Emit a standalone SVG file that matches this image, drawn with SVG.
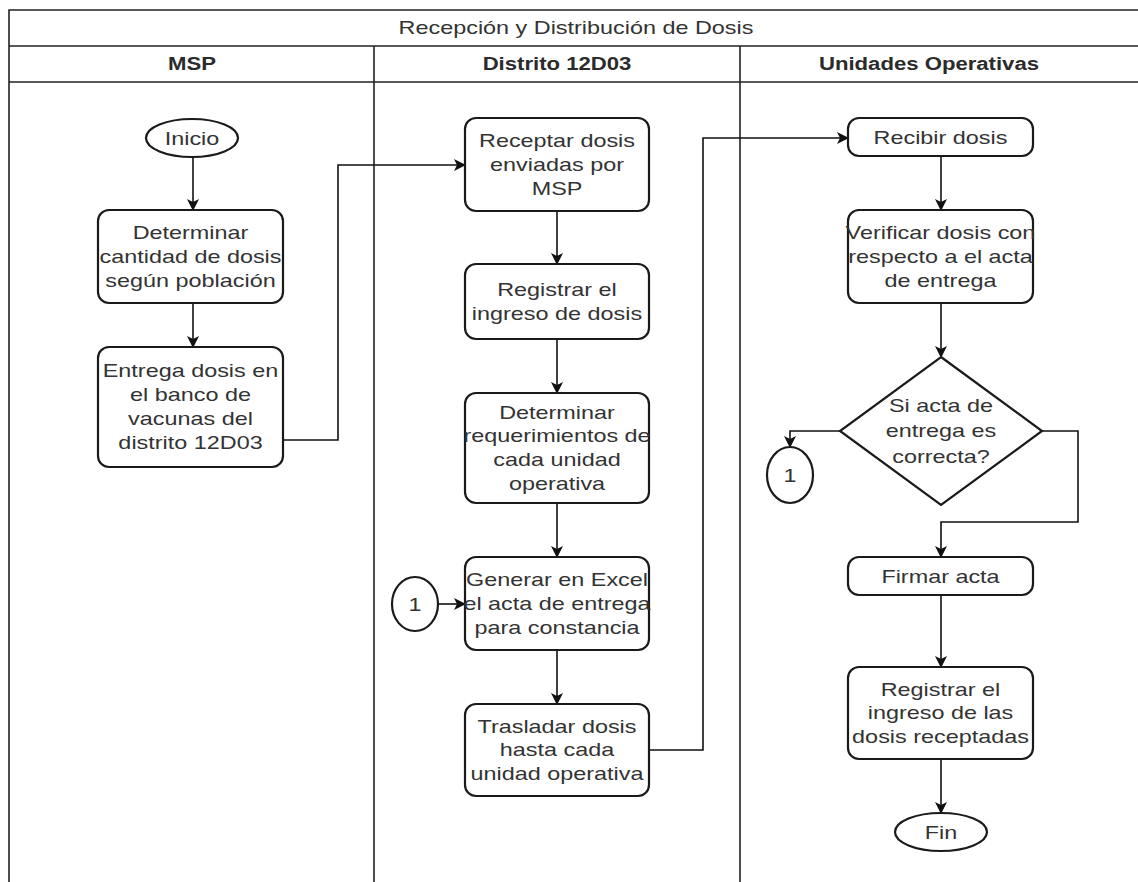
<svg xmlns="http://www.w3.org/2000/svg" width="1138" height="882" viewBox="0 0 1138 882">
  <defs>
    <marker id="arrow" viewBox="0 0 12 12" refX="11" refY="6" markerWidth="12" markerHeight="12" markerUnits="userSpaceOnUse" orient="auto">
      <path d="M0,0 L12,6 L0,12 L3,6 z" fill="#111"/>
    </marker>
    <style>
      .lane { fill: none; stroke: #222; stroke-width: 1.6; }
      .box { fill: #fff; stroke: #1a1a1a; stroke-width: 2.2; }
      .edge { fill: none; stroke: #111; stroke-width: 1.6; marker-end: url(#arrow); }
      text { font-family: "Liberation Sans", Arial, sans-serif; font-size: 18px; fill: #333; text-anchor: middle; }
      .hdr { font-weight: bold; fill: #2b2b2b; }
    </style>
  </defs>
  <rect width="1138" height="882" fill="#fff"/>

  <!-- pool and lanes -->
  <g id="pool">
    <path class="lane" d="M1140,10 H9 V882 M9,46 H1140 M9,82 H1140 M374,46 V882 M740,46 V882"/>
    <text transform="translate(576,34) scale(1.3,1)">Recepción y Distribución de Dosis</text>
    <text class="hdr" transform="translate(192,70) scale(1.23,1)">MSP</text>
    <text class="hdr" transform="translate(557,70) scale(1.23,1)">Distrito 12D03</text>
    <text class="hdr" transform="translate(929,70) scale(1.23,1)">Unidades Operativas</text>
  </g>

  <!-- connectors -->
  <g id="connectors">
    <path class="edge" d="M193,157 V210"/>
    <path class="edge" d="M193,303 V347"/>
    <path class="edge" d="M283,440 H338 V165 H465"/>
    <path class="edge" d="M557,211 V264"/>
    <path class="edge" d="M557,339 V393"/>
    <path class="edge" d="M557,503 V557"/>
    <path class="edge" d="M438,604 H465"/>
    <path class="edge" d="M557,650 V704"/>
    <path class="edge" d="M649,750 H703 V138 H848"/>
    <path class="edge" d="M941,156 V210"/>
    <path class="edge" d="M941,303 V357"/>
    <path class="edge" d="M840,431 H790 V447"/>
    <path class="edge" d="M1042,431 H1078 V522 H941 V557"/>
    <path class="edge" d="M941,595 V667"/>
    <path class="edge" d="M941,759 V813"/>
  </g>

  <!-- MSP lane -->
  <g id="inicio">
    <ellipse class="box" cx="192" cy="138" rx="46" ry="19"/>
    <text transform="translate(192,144.5) scale(1.3,1)">Inicio</text>
  </g>
  <g id="determinar-cantidad">
    <rect class="box" x="98" y="210" width="185" height="93" rx="11"/>
    <text transform="translate(190.5,239) scale(1.3,1)"><tspan x="0">Determinar</tspan><tspan x="0" dy="24">cantidad de dosis</tspan><tspan x="0" dy="24">según población</tspan></text>
  </g>
  <g id="entrega-dosis">
    <rect class="box" x="98" y="347" width="185" height="120" rx="11"/>
    <text transform="translate(190.5,377) scale(1.3,1)"><tspan x="0">Entrega dosis en</tspan><tspan x="0" dy="24">el banco de</tspan><tspan x="0" dy="24">vacunas del</tspan><tspan x="0" dy="24">distrito 12D03</tspan></text>
  </g>

  <!-- Distrito lane -->
  <g id="receptar-dosis">
    <rect class="box" x="465" y="118" width="184" height="93" rx="11"/>
    <text transform="translate(557,147) scale(1.3,1)"><tspan x="0">Receptar dosis</tspan><tspan x="0" dy="24">enviadas por</tspan><tspan x="0" dy="24">MSP</tspan></text>
  </g>
  <g id="registrar-ingreso">
    <rect class="box" x="465" y="264" width="184" height="75" rx="11"/>
    <text transform="translate(557,296) scale(1.3,1)"><tspan x="0">Registrar el</tspan><tspan x="0" dy="24">ingreso de dosis</tspan></text>
  </g>
  <g id="determinar-requerimientos">
    <rect class="box" x="465" y="393" width="184" height="110" rx="11"/>
    <text transform="translate(557,418.5) scale(1.3,1)"><tspan x="0">Determinar</tspan><tspan x="0" dy="24">requerimientos de</tspan><tspan x="0" dy="24">cada unidad</tspan><tspan x="0" dy="24">operativa</tspan></text>
  </g>
  <g id="conector-1-distrito">
    <ellipse class="box" cx="415" cy="604" rx="23" ry="27"/>
    <text transform="translate(415,610.5) scale(1.3,1)">1</text>
  </g>
  <g id="generar-acta">
    <rect class="box" x="465" y="557" width="184" height="93" rx="11"/>
    <text transform="translate(557,586) scale(1.3,1)"><tspan x="0">Generar en Excel</tspan><tspan x="0" dy="24">el acta de entrega</tspan><tspan x="0" dy="24">para constancia</tspan></text>
  </g>
  <g id="trasladar-dosis">
    <rect class="box" x="465" y="704" width="184" height="92" rx="11"/>
    <text transform="translate(557,732.5) scale(1.3,1)"><tspan x="0">Trasladar dosis</tspan><tspan x="0" dy="24">hasta cada</tspan><tspan x="0" dy="24">unidad operativa</tspan></text>
  </g>

  <!-- Unidades Operativas lane -->
  <g id="recibir-dosis">
    <rect class="box" x="848" y="118" width="185" height="38" rx="11"/>
    <text transform="translate(940.5,143.5) scale(1.3,1)">Recibir dosis</text>
  </g>
  <g id="verificar-dosis">
    <rect class="box" x="848" y="210" width="185" height="93" rx="11"/>
    <text transform="translate(940.5,239) scale(1.3,1)"><tspan x="0">Verificar dosis con</tspan><tspan x="0" dy="24">respecto a el acta</tspan><tspan x="0" dy="24">de entrega</tspan></text>
  </g>
  <g id="decision-acta">
    <polygon class="box" points="941,357 1042,431 941,505 840,431"/>
    <text transform="translate(941,412) scale(1.3,1)"><tspan x="0">Si acta de</tspan><tspan x="0" dy="25.5">entrega es</tspan><tspan x="0" dy="25.5">correcta?</tspan></text>
  </g>
  <g id="conector-1-unidades">
    <ellipse class="box" cx="790" cy="475" rx="23" ry="28"/>
    <text transform="translate(790,481.5) scale(1.3,1)">1</text>
  </g>
  <g id="firmar-acta">
    <rect class="box" x="848" y="557" width="185" height="38" rx="11"/>
    <text transform="translate(940.5,582.5) scale(1.3,1)">Firmar acta</text>
  </g>
  <g id="registrar-receptadas">
    <rect class="box" x="848" y="667" width="185" height="92" rx="11"/>
    <text transform="translate(940.5,695.5) scale(1.3,1)"><tspan x="0">Registrar el</tspan><tspan x="0" dy="24">ingreso de las</tspan><tspan x="0" dy="24">dosis receptadas</tspan></text>
  </g>
  <g id="fin">
    <ellipse class="box" cx="941" cy="832" rx="46" ry="19"/>
    <text transform="translate(941,838.5) scale(1.3,1)">Fin</text>
  </g>
</svg>
